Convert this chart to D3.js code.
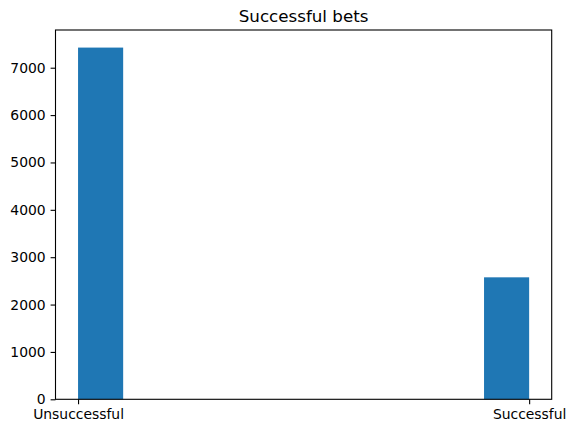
<!DOCTYPE html>
<html>
<head>
<meta charset="utf-8">
<script src="https://cdn.jsdelivr.net/npm/d3@7"></script>
<style>
  body { margin: 0; background: #fff; }
  text { font-family: "DejaVu Sans", sans-serif; fill: #000; }
</style>
</head>
<body>
<div class="chart"></div>
<script>
// histogram of outcome (0 = unsuccessful, 1 = successful), 10 bins
const BIN_EDGES = [0, 0.1, 0.2, 0.3, 0.4, 0.5, 0.6, 0.7, 0.8, 0.9, 1.0]
const COUNTS = [7425, 0, 0, 0, 0, 0, 0, 0, 0, 2575]
const X_TICKS = [0, 1]
const X_LABELS = ['Unsuccessful', 'Successful']
const Y_TICKS = [0, 1000, 2000, 3000, 4000, 5000, 6000, 7000]
const TITLE = 'Successful bets'

const W = 575
const H = 433
const margin = {top: 30, right: 23.3, bottom: 33.7, left: 55.5}
const width = W - margin.left - margin.right
const height = H - margin.top - margin.bottom

const svg = d3.select('.chart').append('svg')
  .attr('width', W)
  .attr('height', H)

const g = svg.append('g')
  .attr('transform', `translate(${margin.left},${margin.top})`)

const x = d3.scaleLinear().domain([-0.05, 1.05]).range([0, width])
const y = d3.scaleLinear().domain([0, d3.max(COUNTS) * 1.05]).range([height, 0])

const bins = COUNTS.map((c, i) => ({x0: BIN_EDGES[i], x1: BIN_EDGES[i + 1], count: c}))

g.selectAll('rect.bar').data(bins.filter(d => d.count > 0))
  .enter().append('rect')
  .attr('class', 'bar')
  .attr('x', d => x(d.x0))
  .attr('width', d => x(d.x1) - x(d.x0))
  .attr('y', d => y(d.count))
  .attr('height', d => y(0) - y(d.count))
  .attr('fill', '#1f77b4')

const axisLeft = d3.axisLeft(y).tickValues(Y_TICKS).tickSize(4.9).tickPadding(4.9).tickFormat(d3.format('d'))
const axisBottom = d3.axisBottom(x).tickValues(X_TICKS).tickSize(4.9).tickPadding(4.9)
  .tickFormat((d, i) => X_LABELS[i])

const yAxis = g.append('g').call(axisLeft)
const xAxis = g.append('g').attr('transform', `translate(0,${height})`).call(axisBottom)

for (const ax of [xAxis, yAxis]) {
  ax.select('.domain').remove()
  ax.selectAll('.tick line').attr('stroke', '#000').attr('stroke-width', 1.1)
  ax.selectAll('.tick text').style('font-size', '13.9px').style('font-family', '"DejaVu Sans", sans-serif')
}

// frame
g.append('rect')
  .attr('width', width)
  .attr('height', height)
  .attr('fill', 'none')
  .attr('stroke', '#000')
  .attr('stroke-width', 1.1)

svg.append('text')
  .attr('x', margin.left + width / 2)
  .attr('y', margin.top - 8.3)
  .attr('text-anchor', 'middle')
  .style('font-size', '16.7px')
  .text(TITLE)
</script>
</body>
</html>
